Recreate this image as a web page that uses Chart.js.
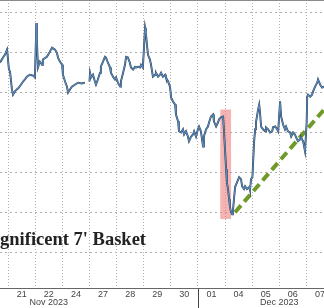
<!DOCTYPE html>
<html>
<head>
<meta charset="utf-8">
<script src="https://cdn.jsdelivr.net/npm/chart.js@4.4.0/dist/chart.umd.min.js"></script>
<style>
  body { margin: 0; background: #fff; }
  #wrap { width: 324px; height: 308px; position: relative; }
</style>
</head>
<body>
<div id="wrap"><canvas id="myChart"></canvas></div>
<script>
// x = trading session index (0 = Nov 21, 1 = Nov 22, ... 11 = Dec 07), fraction = time within session
const dayLabels = ['21', '22', '24', '27', '28', '29', '30', '01', '04', '05', '06', '07'];
const monthLabels = ['Nov 2023', 'Dec 2023'];
const monthAt = [1.5, 10.0];
const monthBreak = 7;

const xMin = -0.3;
const xMax = 11.65;
const yMin = 180.075;
const yMax = 187.325;
const gridLevels = [181, 182, 183, 184, 185, 186, 187];

// 'Magnificent 7' basket, intraday
const times = [
  -0.30, -0.19, -0.12, -0.04,
  0.03, 0.07, 0.14, 0.18, 0.25, 0.32, 0.40, 0.47, 0.55, 0.62, 0.69, 0.80, 0.92, 0.99,
  1.04, 1.06, 1.10, 1.17, 1.25, 1.28, 1.43, 1.54, 1.62, 1.65, 1.73, 1.80, 1.84, 1.91, 1.99,
  2.02, 2.10, 2.17, 2.21, 2.28, 2.35, 2.46, 2.58, 2.72, 2.83, 2.90,
  3.00, 3.02, 3.06, 3.13, 3.20, 3.24, 3.31, 3.39, 3.42, 3.50, 3.57, 3.61, 3.68, 3.76, 3.79, 3.87, 3.94, 3.98,
  4.05, 4.13, 4.16, 4.24, 4.31, 4.35, 4.42, 4.49, 4.53, 4.61, 4.68, 4.72, 4.79, 4.86, 4.90, 4.97,
  5.05, 5.08, 5.12, 5.16, 5.23, 5.27, 5.34, 5.42, 5.45, 5.53, 5.60, 5.64, 5.71, 5.79, 5.82, 5.90, 5.97,
  6.01, 6.08, 6.16, 6.19, 6.27, 6.30, 6.38, 6.45, 6.49, 6.56, 6.63, 6.67, 6.75, 6.82, 6.86, 6.93,
  7.00, 7.04, 7.11, 7.19, 7.22, 7.30, 7.37, 7.41, 7.48, 7.56, 7.59, 7.67, 7.74, 7.78, 7.85, 7.93,
  8.04, 8.07, 8.11, 8.15, 8.18, 8.22, 8.26, 8.29, 8.33, 8.37, 8.44, 8.52, 8.59, 8.63, 8.70, 8.74, 8.81, 8.89, 8.92, 8.96,
  9.01, 9.07, 9.11, 9.14, 9.22, 9.26, 9.29, 9.33, 9.40, 9.48, 9.51, 9.59, 9.66, 9.74, 9.77, 9.85, 9.92, 9.96,
  10.03, 10.07, 10.14, 10.21, 10.25, 10.32, 10.40, 10.44, 10.51, 10.58, 10.62, 10.69, 10.77, 10.80, 10.88, 10.95,
  11.01, 11.03, 11.06, 11.14, 11.21, 11.25, 11.32, 11.40, 11.43, 11.51, 11.58, 11.65
];
const levels = [
  185.75, 185.88, 185.95, 186.08,
  185.58, 185.53, 185.08, 184.95, 185.03, 185.08, 185.13, 185.20, 185.28, 185.33, 185.40, 185.45, 185.43, 185.38,
  186.75, 186.33, 185.63, 185.78, 185.70, 185.83, 185.90, 186.03, 186.13, 186.13, 186.08, 186.00, 185.88, 185.78, 185.70,
  185.45, 185.28, 185.15, 185.00, 185.08, 185.15, 185.20, 185.25, 185.23, 185.25, null,
  185.28, 185.50, 185.38, 185.45, 185.28, 185.20, 185.33, 185.50, 185.65, 185.78, 185.90, 185.88, 185.75, 185.63, 185.50, 185.40, 185.33, 185.38,
  185.25, 185.15, 185.28, 185.50, 185.70, 185.90, 185.88, 185.75, 185.63, 185.58, 185.65, 185.63, 185.65, 185.63, 185.70, 185.63,
  186.63, 186.50, 186.20, 185.95, 185.83, 185.70, 185.40, 185.45, 185.50, 185.40, 185.45, 185.50, 185.40, 185.45, 185.38, 185.28, 185.15,
  184.88, 184.78, 184.70, 184.45, 184.28, 184.03, 184.00, 184.08, 183.95, 184.03, 183.90, 183.78, 183.90, 183.95, 184.03, 183.90,
  184.08, 184.15, 184.03, 183.65, 183.90, 184.08, 184.15, 184.25, 184.40, 184.45, 184.28, 184.15, 184.25, 184.33, 184.38, 184.40,
  183.08, 182.75, 182.58, 182.33, 182.15, 182.00, 181.95, 182.03, 182.33, 182.63, 182.75, 182.88, 182.83, 182.65, 182.58, 182.65, 182.58, 182.63, 182.55, 182.83,
  182.88, 183.75, 184.08, 184.25, 184.58, 184.70, 184.50, 184.15, 184.08, 184.03, 184.13, 184.08, 184.00, 184.03, 184.13, 184.15, 184.08, 184.03,
  184.78, 184.40, 184.20, 184.08, 184.15, 184.03, 184.00, 183.90, 184.00, 183.95, 183.88, 183.78, 183.83, 183.88, 183.78, 183.53,
  184.25, 184.90, 184.95, 184.90, 184.95, 185.03, 185.15, 185.25, 185.33, 185.20, 185.13, 185.15
];

// green dashed trend line
const trendX = [8.37, 11.9];
const trendY = [182.0, 184.77];

// red highlight box (Dec 01 close / Dec 04 open)
const boxX = [7.82, 8.23];
const boxTop = 184.58;
const boxBottom = 181.83;

const titleText = "'Magnificent 7' Basket";

const priceData = times.map((t, i) => ({ x: t, y: levels[i] }));

// tick labels for the bottom label axis
const labelTicks = dayLabels.map((d, i) => ({ value: i + 0.5, text: d }));
monthLabels.forEach((m, k) => {
  const hit = labelTicks.find(t => Math.abs(t.value - monthAt[k]) < 0.01);
  if (hit) hit.text = [hit.text, m];
  else labelTicks.push({ value: monthAt[k], text: ['', m] });
});
labelTicks.sort((a, b) => a.value - b.value);

const noPad = s => { s.paddingLeft = 0; s.paddingRight = 0; };

const overlay = {
  id: 'overlay',
  afterDraw(chart) {
    const { ctx, chartArea } = chart;
    const sx = Math.round(chart.scales.x.getPixelForValue(monthBreak)) + 0.5;
    ctx.save();
    ctx.strokeStyle = '#444';
    ctx.lineWidth = 1;
    ctx.beginPath();
    ctx.moveTo(sx, chartArea.bottom);
    ctx.lineTo(sx, chart.height);
    ctx.stroke();

    ctx.font = "bold 18.5px 'Liberation Serif', 'Times New Roman', serif";
    ctx.fillStyle = '#222';
    ctx.textAlign = 'right';
    ctx.textBaseline = 'alphabetic';
    ctx.fillText(titleText, chartArea.left + 146, chartArea.top + 245);
    ctx.restore();
  }
};

new Chart('myChart', {
  type: 'line',
  data: {
    datasets: [
      {
        data: priceData,
        borderColor: '#5b8cc0',
        borderWidth: 1.1,
        pointRadius: 0,
        tension: 0,
        spanGaps: false
      },
      {
        data: priceData,
        borderColor: '#2b3b4c',
        borderWidth: 1.9,
        pointRadius: 0,
        tension: 0,
        spanGaps: false
      },
      {
        data: trendX.map((x, i) => ({ x: x, y: trendY[i] })),
        borderColor: '#6f9a2a',
        borderWidth: 4,
        borderDash: [9, 5],
        pointRadius: 0
      },
      {
        data: boxX.map(x => ({ x: x, y: boxTop })),
        borderWidth: 0,
        borderColor: 'rgba(0,0,0,0)',
        backgroundColor: 'rgba(240,128,128,0.6)',
        fill: { value: boxBottom },
        pointRadius: 0
      }
    ]
  },
  options: {
    responsive: true,
    maintainAspectRatio: false,
    animation: false,
    layout: { padding: 0 },
    plugins: { legend: { display: false }, tooltip: { enabled: false } },
    scales: {
      x: {
        type: 'linear',
        position: 'bottom',
        min: xMin,
        max: xMax,
        afterBuildTicks: s => { s.ticks = dayLabels.map((_, i) => ({ value: i })); },
        ticks: { display: false },
        grid: { color: '#b0b0b0', lineWidth: 1, drawTicks: false, borderDash: [1, 2] },
        border: { display: true, color: '#666', width: 1, dash: [1, 2] },
        afterFit: noPad
      },
      xl: {
        type: 'linear',
        position: 'bottom',
        min: xMin,
        max: xMax,
        afterBuildTicks: s => { s.ticks = labelTicks.map(t => ({ value: t.value })); },
        ticks: {
          autoSkip: false,
          maxRotation: 0,
          padding: 1,
          color: '#444',
          font: { family: "'Liberation Sans Narrow', 'Liberation Sans', Arial, sans-serif", size: 9, lineHeight: 0.95 },
          callback: (v, i) => labelTicks[i].text
        },
        grid: { display: false, drawTicks: false },
        border: { display: false },
        afterFit: noPad
      },
      y: {
        min: yMin,
        max: yMax,
        afterBuildTicks: s => { s.ticks = gridLevels.concat([yMax]).map(v => ({ value: v })); },
        ticks: { display: false },
        grid: {
          drawTicks: false,
          color: c => (c.tick && c.tick.value === yMax ? '#8c8c8c' : '#b0b0b0'),
          borderDash: [2, 3]
        },
        border: {
          display: false,
          dash: c => (c.tick && c.tick.value === yMax ? [] : [2, 3])
        },
        afterFit: s => { s.width = 0; }
      }
    }
  },
  plugins: [overlay]
});
</script>
</body>
</html>
